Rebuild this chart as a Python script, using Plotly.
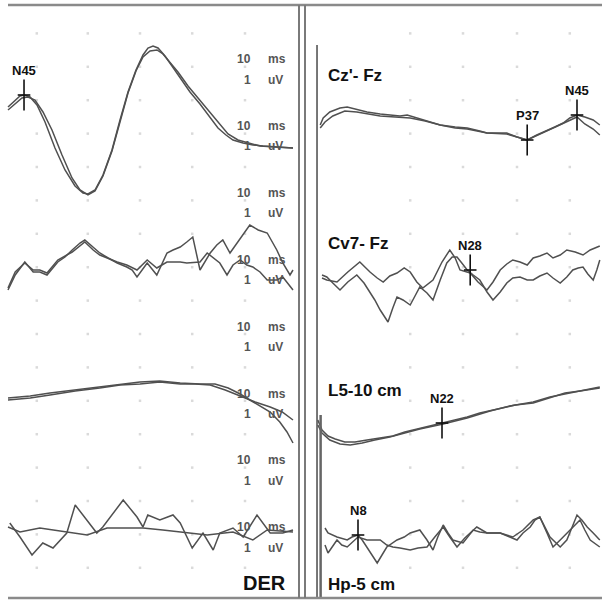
import plotly.graph_objects as go

# ---------------------------------------------------------------
# Somatosensory evoked potentials, two superimposed runs per channel.
# Times in ms, amplitudes in uV (negative plotted upward).
# ---------------------------------------------------------------

# ---- left page: late cortical window ("DER") ----
der1_a_t = [42.0, 43.17, 44.0, 44.67, 45.67, 46.83, 48.17, 49.83, 51.5, 53.17, 54.5, 55.33, 56.5,
            57.83, 59.33, 60.67, 62.0, 63.33, 64.5, 65.33, 66.17, 67.0, 68.17, 69.33, 70.67, 72.33,
            74.0, 75.67, 77.0, 78.33, 79.5, 81.17, 82.83, 84.5, 86.83, 89.5]
der1_a_v = [-1.3, -2.0, -2.4, -2.5, -2.3, -1.5, 0.2, 2.8, 5.0, 6.6, 7.3, 7.4, 7.0,
            5.5, 3.0, 0.0, -2.8, -5.0, -6.5, -7.2, -7.4, -7.2, -6.4, -5.4, -4.2, -2.8,
            -1.6, -0.2, 0.8, 1.5, 2.0, 2.3, 2.5, 2.6, 2.7, 2.8]
der1_b_t = [42.0, 43.17, 44.33, 45.33, 46.5, 47.83, 49.33, 51.0, 52.67, 54.0, 55.33, 56.5, 57.83,
            59.33, 60.67, 62.0, 63.33, 64.5, 65.67, 66.83, 67.83, 69.0, 70.33, 72.0, 73.67, 75.33,
            77.0, 78.67, 80.33, 82.0, 84.0, 86.5, 89.5]
der1_b_v = [-1.0, -1.6, -2.2, -2.3, -2.0, -0.8, 1.0, 3.5, 5.8, 7.0, 7.5, 7.1, 5.6,
            3.1, 0.1, -2.7, -4.9, -6.3, -6.9, -7.0, -6.6, -5.8, -4.8, -3.4, -2.2, -1.0,
            0.2, 1.4, 2.0, 2.3, 2.6, 2.7, 2.8]

der2_a_t = [42.0, 43.2, 44.8, 46.2, 47.3, 48.5, 50.3, 51.5, 52.7, 54.0, 54.8, 56.2, 57.3, 58.7,
            60.2, 61.8, 62.7, 63.5, 65.2, 66.8, 68.5, 69.5, 70.7, 71.8, 72.8, 74.0, 75.7, 76.8,
            77.8, 79.0, 80.2, 81.2, 82.3, 83.7, 85.2, 86.8, 87.8, 89.0, 89.5]
der2_a_v = [2.5, 1.0, -0.3, 0.7, 0.7, 1.0, -0.3, -0.8, -1.5, -2.2, -2.5, -1.8, -1.2, -0.7,
            -0.2, 0.2, 0.5, 1.2, -0.2, 1.0, -1.2, -1.5, -1.8, -2.3, -2.8, 0.5, -1.2, -2.0,
            -2.5, -1.2, -2.2, -3.0, -4.0, -3.5, -3.2, -1.5, -0.2, 1.0, 0.5]
der2_b_t = [42.0, 43.2, 44.8, 46.2, 47.3, 48.5, 50.3, 52.7, 54.8, 56.2, 57.3, 60.2, 61.8, 63.5,
            65.2, 66.8, 68.5, 70.7, 71.8, 74.0, 75.2, 76.2, 77.3, 78.5, 79.5, 80.7, 81.8, 82.8,
            84.0, 85.2, 86.8, 87.8, 89.5]
der2_b_v = [2.3, 0.7, -0.2, 0.5, 0.5, 0.8, -0.5, -1.3, -2.3, -1.5, -1.0, -0.3, 0.0, 0.5,
            -0.5, 0.3, -0.3, -0.3, -0.2, -0.3, -1.2, -0.7, -0.2, 1.0, 0.0, -0.5, 0.0, 0.2,
            0.7, 1.5, 1.5, 1.2, 2.5]

der3_a_t = [42.0, 45.7, 49.0, 53.2, 57.3, 60.7, 64.0, 67.3, 70.7, 74.0, 76.5, 78.7, 80.7, 82.3,
            84.0, 85.7, 87.3, 88.5, 89.5]
der3_a_v = [-0.2, -0.4, -0.7, -1.0, -1.3, -1.6, -1.8, -1.9, -1.7, -1.6, -1.6, -1.2, -0.6, 0.0,
            0.6, 1.2, 2.2, 3.2, 4.3]
der3_b_t = [42.0, 45.7, 49.0, 53.2, 57.3, 60.7, 64.0, 67.3, 70.7, 73.2, 75.7, 78.2, 80.7, 83.2,
            85.7, 87.7, 89.5]
der3_b_v = [0.0, -0.2, -0.5, -0.9, -1.2, -1.5, -1.6, -1.8, -1.6, -1.6, -1.5, -1.0, -0.4, 0.2,
            0.7, 1.2, 2.0]

der4_a_t = [42.3, 44.0, 46.0, 47.8, 49.5, 51.8, 53.2, 55.2, 56.8, 57.8, 61.2, 63.5, 64.5, 65.3,
            67.3, 69.5, 70.7, 72.7, 74.5, 76.2, 77.3, 79.5, 81.2, 83.5, 85.7, 87.8, 89.5]
der4_a_v = [-0.7, 0.7, 2.5, 1.3, 1.8, 0.3, -2.5, -1.0, 0.3, -0.3, -3.0, -1.3, -0.3, -1.5,
            -1.0, -1.5, -0.7, 1.8, 0.3, 2.0, 0.3, -0.2, 0.7, -1.5, 0.3, 0.3, 0.0]
der4_b_t = [42.0, 44.0, 47.3, 51.8, 55.2, 58.5, 64.5, 67.8, 71.8, 75.2, 79.5, 82.8, 85.2, 88.5, 89.5]
der4_b_v = [-0.3, 0.2, -0.2, 0.2, 0.5, -0.2, -0.2, 0.0, 0.3, 0.5, 0.2, 1.0, 0.0, 0.2, 0.2]

# ---- right page: Cz'-Fz, Cv7-Fz, L5-10 cm, Hp-5 cm ----
cz_a_t = [1.7, 2.2, 3.3, 5.0, 6.2, 7.5, 9.5, 11.7, 13.3, 15.0, 16.2, 18.3, 21.7, 24.2, 26.2,
          28.3, 29.5, 31.7, 32.8, 34.5, 36.2, 37.8, 39.5, 40.8, 42.2, 43.3, 44.5, 45.8, 47.2, 48.3]
cz_a_v = [0.5, -0.2, -0.8, -1.2, -1.3, -1.1, -0.8, -0.6, -0.5, -0.4, -0.5, -0.1, 0.5, 0.7, 0.8,
          1.1, 1.3, 1.3, 1.3, 1.7, 2.0, 1.5, 1.0, 0.7, 0.3, -0.2, -0.5, -0.3, 0.0, 0.5]
cz_b_t = [1.7, 2.5, 3.8, 5.8, 7.8, 9.5, 11.7, 14.2, 16.7, 19.2, 21.7, 24.2, 26.2, 29.5, 32.8,
          36.2, 39.5, 42.2, 44.5, 45.8, 47.2, 48.3]
cz_b_v = [0.8, 0.2, -0.4, -0.9, -0.8, -0.6, -0.4, -0.3, -0.2, 0.1, 0.5, 0.8, 0.9, 1.3, 1.4,
          2.0, 1.1, 0.4, -0.3, 0.4, 0.9, 1.5]

cv7_a_t = [2.0, 2.8, 4.5, 6.3, 8.3, 10.0, 11.2, 12.2, 13.3, 14.5, 15.7, 16.7, 17.8, 18.8, 20.5,
           22.0, 23.3, 24.2, 25.0, 26.7, 28.0, 29.5, 30.5, 31.7, 32.8, 33.8, 35.0, 36.2, 37.2,
           38.3, 39.5, 40.5, 41.7, 42.8, 44.2, 45.5, 46.7, 47.8, 48.3]
cv7_a_v = [0.3, 0.5, 0.7, -0.3, -1.3, -0.3, 0.3, 0.7, 0.1, -0.2, -0.7, -0.3, 0.7, 1.3, 0.5,
           -1.3, -2.5, -1.7, -0.5, -0.2, 0.7, 1.5, 0.7, -0.5, -1.1, -1.5, -1.3, -1.0, -1.7,
           -1.9, -2.2, -1.7, -2.0, -2.5, -2.3, -2.0, -2.5, -2.8, -2.9]
cv7_b_t = [2.0, 2.8, 3.8, 5.0, 6.3, 7.8, 9.0, 10.0, 10.8, 11.7, 13.0, 13.8, 14.5, 15.5, 16.7,
           17.5, 18.3, 19.5, 20.5, 21.7, 22.8, 23.7, 24.5, 25.3, 26.2, 27.2, 28.3, 29.5, 30.5,
           31.7, 32.8, 33.8, 35.0, 36.2, 37.2, 38.3, 39.5, 40.5, 41.7, 42.8, 43.8, 44.7, 45.5,
           46.3, 47.2, 47.8, 48.3]
cv7_b_v = [0.0, 0.2, 0.8, 1.5, 0.7, 0.0, 0.8, 1.7, 2.5, 3.5, 4.7, 3.3, 2.2, 2.5, 3.0,
           2.1, 1.2, 1.8, 2.5, 0.5, -1.2, -1.8, -1.8, -1.2, -0.5, 0.0, 0.5, 1.7, 2.5,
           1.7, 0.8, 0.3, 0.2, 0.5, 0.5, 0.1, -0.2, 0.3, 0.8, 0.2, -0.5, -0.7, -0.8,
           -0.1, 0.5, -0.5, -1.5]

l5_a_t = [1.3, 2.0, 3.0, 4.2, 5.8, 7.5, 9.5, 11.7, 13.8, 15.8, 17.8, 20.0, 22.2, 24.2, 26.2,
          28.3, 31.7, 34.2, 37.2, 40.0, 42.5, 45.0, 48.3]
l5_a_v = [-1.0, 0.0, 0.6, 0.9, 1.2, 1.2, 1.0, 0.8, 0.6, 0.2, -0.1, -0.4, -0.7, -1.0, -1.3,
          -1.7, -2.2, -2.5, -2.7, -3.2, -3.7, -3.9, -4.2]
l5_b_t = [1.3, 2.0, 3.3, 5.0, 6.7, 8.7, 10.8, 13.3, 15.8, 18.3, 22.2, 26.2, 30.0, 33.3, 37.2,
          40.0, 43.3, 45.8, 48.3]
l5_b_v = [-0.5, 0.3, 1.0, 1.4, 1.5, 1.3, 1.0, 0.7, 0.3, -0.1, -0.6, -1.2, -1.9, -2.4, -2.8,
          -3.3, -3.7, -4.0, -4.3]

hp_a_t = [2.5, 3.0, 4.5, 6.2, 7.0, 8.0, 8.7, 9.5, 10.3, 11.2, 12.0, 12.8, 14.5, 15.7, 16.7,
          18.3, 19.5, 20.5, 21.3, 22.2, 23.0, 23.8, 25.5, 27.2, 28.3, 29.5, 31.7, 32.8, 33.8,
          35.5, 37.2, 38.3, 39.2, 40.0, 41.7, 42.8, 43.7, 44.5, 45.3, 46.2, 47.2, 48.3]
hp_a_v = [-0.7, -0.2, 0.2, 0.5, 0.2, 0.0, 0.5, 1.2, 2.0, 2.8, 2.0, 1.2, 0.5, 0.2, -0.2,
          -0.5, 0.5, 1.5, 0.2, -1.0, -0.2, 0.5, 0.8, -0.5, -0.3, -0.2, -0.2, 0.0, 0.2,
          -0.5, -1.5, -1.8, -0.8, 0.2, 1.2, 0.5, -0.8, -2.0, -1.5, -0.8, -0.2, 0.5]
hp_b_t = [2.5, 3.0, 4.5, 5.3, 6.2, 8.0, 9.5, 11.7, 12.8, 13.8, 15.0, 16.7, 18.0, 19.5, 20.8,
          22.2, 23.3, 24.5, 25.8, 27.8, 29.5, 31.7, 33.3, 34.5, 35.5, 36.7, 37.5, 38.3, 39.5,
          40.5, 41.7, 42.8, 43.8, 45.0, 45.8, 46.7, 48.3]
hp_b_v = [1.0, 1.8, 0.5, 1.0, 1.2, 0.2, 0.5, 0.5, 1.0, 1.2, 1.3, 1.5, 1.3, 1.2, 0.2,
          -0.8, 0.2, 1.2, 0.3, -0.8, -0.2, -0.2, 0.2, 0.5, -0.2, -0.8, -1.5, -1.8, -0.2,
          1.2, 0.5, -0.2, -0.8, -1.5, -0.5, 0.5, 1.2]

# peak cursors: name, latency (ms), amplitude (uV)
left_peak_names = ["N45"]
left_peak_ms = [44.67]
left_peak_uv = [-2.5]
right_peak_names = ["N45", "P37", "N28", "N22", "N8"]
right_peak_ms = [44.5, 36.2, 26.7, 22.0, 8.0]
right_peak_uv = [-0.5, 2.0, -0.5, -0.7, 0.0]

right_channel_names = ["Cz'- Fz", "Cv7- Fz", "L5-10 cm", "Hp-5 cm"]
left_page_name = "DER"
scale_time_label = ["10", "ms"]
scale_amp_label = ["1", "uV"]

# ---- layout geometry (y in display units, 10 px each, downward) ----
W, H = 602, 601
Y_TOTAL = H / 10.0
left_rows = [12.0, 26.5, 40.0, 53.0]
right_rows = [12.0, 27.5, 43.0, 53.5]
right_peak_rows = [12.0, 12.0, 27.5, 43.0, 53.5]
stim_ms = 1.17
LEFT_RANGE = [40.667, 90.667]
RIGHT_RANGE = [-1.667, 48.667]
SPLIT = 300 / W

dot_cols_left = [46.8, 55.3, 64.0, 72.7, 81.5]
dot_cols_right = [16.7, 25.5, 34.5, 43.3]

WAVE = "#505050"
fig = go.Figure()

# faint calibration dot grid
dot_rows = [3.34 * k for k in range(1, 18)]
for cols, ax in ((dot_cols_left, "x"), (dot_cols_right, "x2")):
    xs, ys = [], []
    for r in dot_rows:
        for c in cols:
            xs.append(c)
            ys.append(r)
    fig.add_trace(go.Scatter(x=xs, y=ys, xaxis=ax, yaxis="y", mode="markers",
                             marker=dict(symbol="square", size=2.5, color="#dadada"),
                             hoverinfo="skip", showlegend=False))


def add_wave(t, v, base, ax):
    fig.add_trace(go.Scatter(x=t, y=[base + a for a in v], xaxis=ax, yaxis="y",
                             mode="lines", line=dict(color=WAVE, width=1.5),
                             hoverinfo="skip", showlegend=False))


left_waves = [(der1_a_t, der1_a_v, der1_b_t, der1_b_v),
              (der2_a_t, der2_a_v, der2_b_t, der2_b_v),
              (der3_a_t, der3_a_v, der3_b_t, der3_b_v),
              (der4_a_t, der4_a_v, der4_b_t, der4_b_v)]
right_waves = [(cz_a_t, cz_a_v, cz_b_t, cz_b_v),
               (cv7_a_t, cv7_a_v, cv7_b_t, cv7_b_v),
               (l5_a_t, l5_a_v, l5_b_t, l5_b_v),
               (hp_a_t, hp_a_v, hp_b_t, hp_b_v)]

for (ta, va, tb, vb), base in zip(left_waves, left_rows):
    add_wave(tb, vb, base, "x")
    add_wave(ta, va, base, "x")
for (ta, va, tb, vb), base in zip(right_waves, right_rows):
    add_wave(tb, vb, base, "x2")
    add_wave(ta, va, base, "x2")

# stimulus artifact
fig.add_trace(go.Scatter(x=[stim_ms, stim_ms], y=[4.5, 59.8], xaxis="x2", yaxis="y",
                         mode="lines", line=dict(color="#555555", width=1.6),
                         hoverinfo="skip", showlegend=False))
fig.add_trace(go.Scatter(x=[stim_ms + 0.6, stim_ms + 0.6], y=[41.5, 59.8], xaxis="x2", yaxis="y",
                         mode="lines", line=dict(color="#666666", width=2.5),
                         hoverinfo="skip", showlegend=False))

# peak cursors with labels
annotations = []


def add_cursors(names, ms, uv, rows, ax):
    ys = [r + a for r, a in zip(rows, uv)]
    fig.add_trace(go.Scatter(x=ms, y=ys, xaxis=ax, yaxis="y", mode="markers",
                             marker=dict(symbol="line-ns", size=22,
                                         line=dict(color="#111111", width=1.6)),
                             hoverinfo="skip", showlegend=False))
    fig.add_trace(go.Scatter(x=ms, y=ys, xaxis=ax, yaxis="y", mode="markers",
                             marker=dict(symbol="line-ew", size=9,
                                         line=dict(color="#111111", width=1.6)),
                             hoverinfo="skip", showlegend=False))
    for n, x, y in zip(names, ms, ys):
        annotations.append(dict(x=x, y=y, xref=ax, yref="y", text="<b>%s</b>" % n,
                                showarrow=False, yshift=25,
                                font=dict(family="Liberation Sans", size=13, color="#111111")))


add_cursors(left_peak_names, left_peak_ms, left_peak_uv, [left_rows[0]], "x")
add_cursors(right_peak_names, right_peak_ms, right_peak_uv, right_peak_rows, "x2")

# channel captions
caption_rows = [7.5, 24.3, 39.0, 58.4]
for name, y in zip(right_channel_names, caption_rows):
    annotations.append(dict(x=2.6, y=y, xref="x2", yref="y", text="<b>%s</b>" % name,
                            showarrow=False, xanchor="left",
                            font=dict(family="Liberation Sans", size=17, color="#111111")))
annotations.append(dict(x=88.6, y=58.3, xref="x", yref="y", text="<b>%s</b>" % left_page_name,
                        showarrow=False, xanchor="right",
                        font=dict(family="Liberation Sans", size=20, color="#111111")))

# calibration text down the right edge of the left page
for k in range(8):
    y_ms = 5.9 + 6.69 * k
    y_uv = y_ms + 2.05
    for (num, unit), y in ((scale_time_label, y_ms), (scale_amp_label, y_uv)):
        annotations.append(dict(x=82.9, y=y, xref="x", yref="y", text="<b>%s</b>" % num,
                                showarrow=False, xanchor="right",
                                font=dict(family="Liberation Sans", size=12, color="#555555")))
        annotations.append(dict(x=85.0, y=y, xref="x", yref="y", text="<b>%s</b>" % unit,
                                showarrow=False, xanchor="left",
                                font=dict(family="Liberation Sans", size=12, color="#555555")))

# page frames
frame = dict(color="#8a8a8a", width=2.5)
shapes = [
    dict(type="line", xref="paper", yref="paper", x0=8 / W, x1=1, y0=1 - 5 / H, y1=1 - 5 / H, line=frame),
    dict(type="line", xref="paper", yref="paper", x0=8 / W, x1=1, y0=1 - 598 / H, y1=1 - 598 / H, line=frame),
    dict(type="line", xref="paper", yref="paper", x0=299 / W, x1=299 / W, y0=1 - 5 / H, y1=1 - 598 / H,
         line=dict(color="#7a7a7a", width=2)),
    dict(type="line", xref="paper", yref="paper", x0=305 / W, x1=305 / W, y0=1 - 5 / H, y1=1 - 598 / H,
         line=dict(color="#7a7a7a", width=2)),
]

fig.update_layout(
    width=W, height=H, margin=dict(l=0, r=0, t=0, b=0),
    paper_bgcolor="white", plot_bgcolor="white",
    xaxis=dict(domain=[0, SPLIT], range=LEFT_RANGE, visible=False),
    xaxis2=dict(domain=[SPLIT, 1], range=RIGHT_RANGE, visible=False, anchor="y"),
    yaxis=dict(domain=[0, 1], range=[Y_TOTAL, 0], visible=False),
    annotations=annotations, shapes=shapes, showlegend=False,
)

fig.write_html("out.html", config={"displayModeBar": False})
